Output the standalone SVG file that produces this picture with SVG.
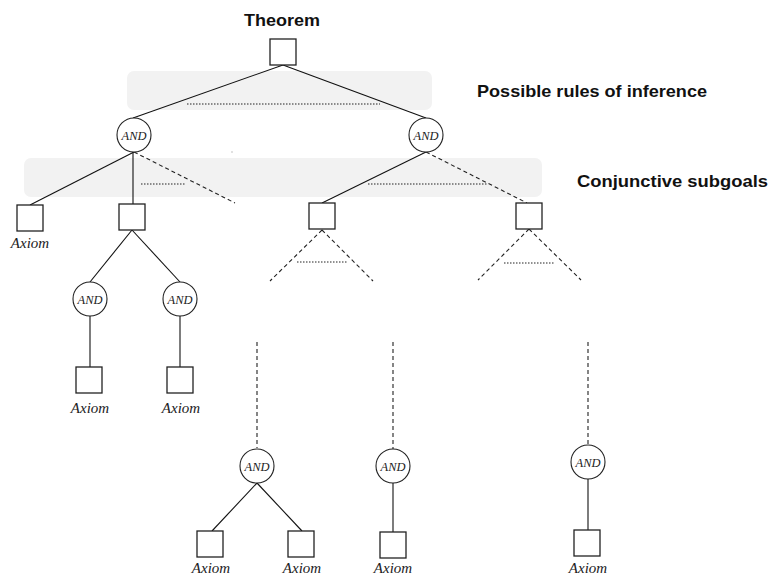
<svg xmlns="http://www.w3.org/2000/svg" width="769" height="577" viewBox="0 0 769 577">
<style>
.band{fill:#f2f2f2;stroke:none}
.box{fill:#fff;stroke:#222;stroke-width:1.3}
.and{fill:#fff;stroke:#222;stroke-width:1.1}
.s{stroke:#111;stroke-width:1.1;fill:none}
.d{stroke:#222;stroke-width:1.1;stroke-dasharray:4,3;fill:none}
.o{stroke:#222;stroke-width:1;stroke-dasharray:1.5,1.5;fill:none}
.lab{font-family:"Liberation Sans",Arial,sans-serif;font-weight:bold;font-size:17px;fill:#111}
.ax{font-family:"Liberation Serif","Times New Roman",serif;font-style:italic;font-size:15px;fill:#222;text-anchor:middle}
.an{font-family:"Liberation Serif","Times New Roman",serif;font-style:italic;font-size:12.5px;fill:#222;text-anchor:middle}
</style>
<rect width="769" height="577" fill="#fff"/>
<g id="bands">
<rect class="band" x="127" y="71" width="305" height="39" rx="7"/>
<rect class="band" x="24" y="158" width="518" height="39" rx="7"/>
</g>
<g id="labels">
<text class="lab" x="244" y="26" textLength="76" lengthAdjust="spacingAndGlyphs">Theorem</text>
<text class="lab" x="477" y="97" textLength="230" lengthAdjust="spacingAndGlyphs">Possible rules of inference</text>
<text class="lab" x="577" y="187" textLength="191" lengthAdjust="spacingAndGlyphs">Conjunctive subgoals</text>
</g>
<rect x="231.5" y="151.5" width="1" height="1" fill="#888"/>
<g id="connectors">
<line class="s" x1="283" y1="65" x2="133" y2="118"/>
<line class="s" x1="283" y1="65" x2="426" y2="118"/>
<line class="o" x1="187" y1="104" x2="380" y2="104"/>
<line class="s" x1="134" y1="152" x2="30" y2="205"/>
<line class="s" x1="133" y1="152" x2="133" y2="204"/>
<line class="d" x1="134" y1="152" x2="235" y2="203"/>
<line class="o" x1="141" y1="184" x2="185" y2="184"/>
<line class="s" x1="426" y1="152" x2="322" y2="203"/>
<line class="d" x1="426" y1="152" x2="527" y2="203"/>
<line class="o" x1="368" y1="184" x2="487" y2="184"/>
<line class="s" x1="132" y1="230" x2="90" y2="282"/>
<line class="s" x1="132" y1="230" x2="180" y2="282"/>
<line class="s" x1="90" y1="316" x2="90" y2="367"/>
<line class="s" x1="180" y1="316" x2="180" y2="367"/>
<line class="d" x1="322" y1="230" x2="270" y2="281"/>
<line class="d" x1="322" y1="230" x2="373" y2="281"/>
<line class="o" x1="297" y1="262" x2="347" y2="262"/>
<line class="d" x1="529" y1="229" x2="478" y2="280"/>
<line class="d" x1="529" y1="229" x2="581" y2="280"/>
<line class="o" x1="504" y1="263" x2="555" y2="263"/>
<line class="d" x1="257" y1="342" x2="257" y2="448"/>
<line class="d" x1="393" y1="342" x2="393" y2="449"/>
<line class="d" x1="588" y1="342" x2="588" y2="445"/>
<line class="s" x1="257" y1="483" x2="212" y2="531"/>
<line class="s" x1="257" y1="483" x2="302" y2="531"/>
<line class="s" x1="393" y1="483" x2="393" y2="532"/>
<line class="s" x1="588" y1="479" x2="588" y2="530"/>
</g>
<g id="theorem"><rect class="box" x="270" y="39" width="26" height="26"/></g>
<g id="and-l1"><circle class="and" cx="134" cy="135" r="17"/><text class="an" x="134" y="139.5">AND</text></g>
<g id="and-r1"><circle class="and" cx="426" cy="135" r="17"/><text class="an" x="426" y="139.5">AND</text></g>
<g id="axiom-a1"><rect class="box" x="17" y="205" width="26" height="26"/><text class="ax" x="30" y="248">Axiom</text></g>
<g id="goal-b1"><rect class="box" x="119" y="204" width="26" height="26"/></g>
<g id="goal-c1"><rect class="box" x="309" y="203" width="26" height="26"/></g>
<g id="goal-d1"><rect class="box" x="516" y="203" width="26" height="26"/></g>
<g id="and-l2a"><circle class="and" cx="90" cy="299" r="17"/><text class="an" x="90" y="303.5">AND</text></g>
<g id="and-l2b"><circle class="and" cx="180" cy="299" r="17"/><text class="an" x="180" y="303.5">AND</text></g>
<g id="axiom-l2a"><rect class="box" x="76" y="367" width="26" height="26"/><text class="ax" x="90" y="413">Axiom</text></g>
<g id="axiom-l2b"><rect class="box" x="167" y="367" width="26" height="26"/><text class="ax" x="181" y="413">Axiom</text></g>
<g id="and-b1"><circle class="and" cx="257" cy="466" r="17"/><text class="an" x="257" y="470.5">AND</text></g>
<g id="and-b2"><circle class="and" cx="393" cy="466" r="17"/><text class="an" x="393" y="470.5">AND</text></g>
<g id="and-b3"><circle class="and" cx="588" cy="462" r="17"/><text class="an" x="588" y="466.5">AND</text></g>
<g id="axiom-b1a"><rect class="box" x="197" y="531" width="26" height="26"/><text class="ax" x="211" y="573">Axiom</text></g>
<g id="axiom-b1b"><rect class="box" x="288" y="531" width="26" height="26"/><text class="ax" x="302" y="573">Axiom</text></g>
<g id="axiom-b2"><rect class="box" x="380" y="532" width="26" height="26"/><text class="ax" x="393" y="573">Axiom</text></g>
<g id="axiom-b3"><rect class="box" x="574" y="530" width="26" height="26"/><text class="ax" x="588" y="573">Axiom</text></g>
</svg>
